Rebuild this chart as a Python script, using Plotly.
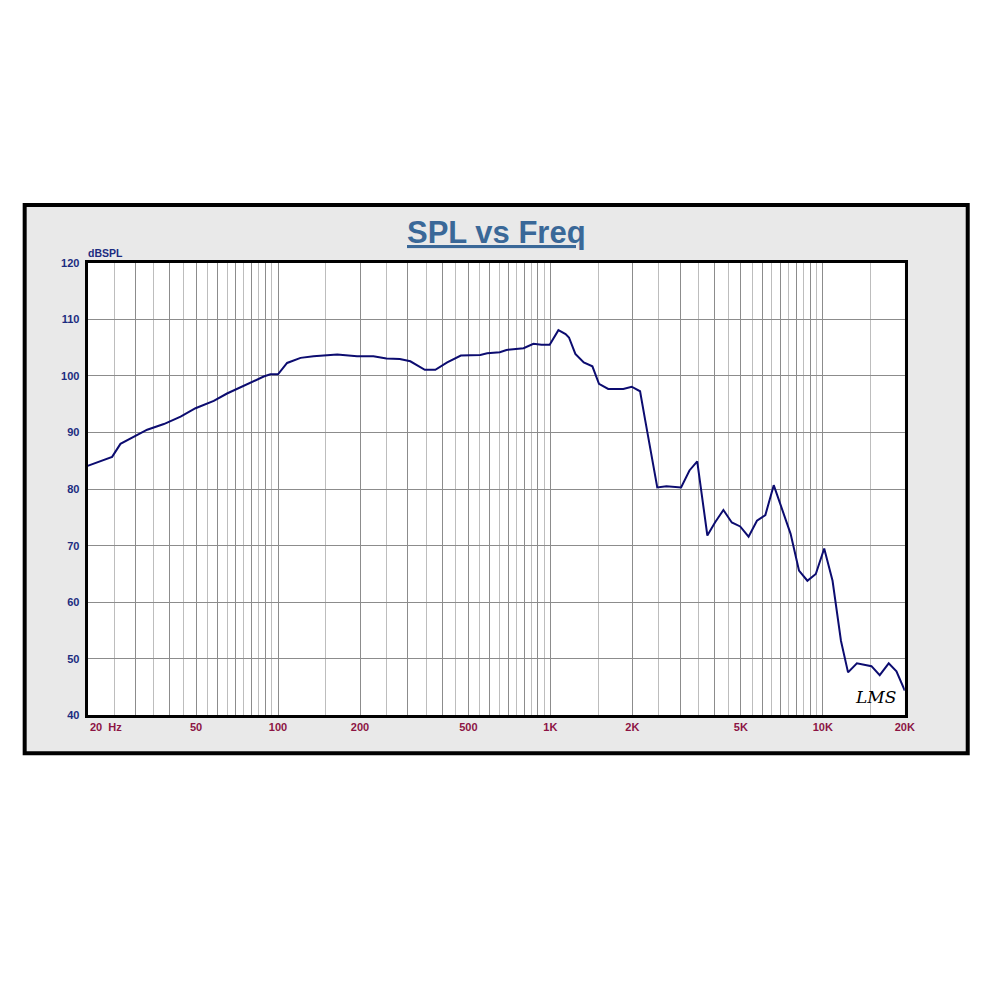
import numpy as np
import plotly.graph_objects as go

# ---- data ----
freq_hz = [20, 24.6, 26.4, 29.6, 33.1, 38.1, 43.9, 49.8, 58.1, 65, 77, 88.6, 93.8, 100,
           108, 121, 135, 165, 195, 224, 250, 280, 306, 346, 378, 418, 469, 553, 586,
           652, 690, 797, 866, 928, 994, 1070, 1137, 1170, 1235, 1326, 1426, 1508, 1630,
           1852, 1988, 2134, 2230, 2468, 2666, 3018, 3240, 3460, 3769, 4020, 4316, 4634,
           4974, 5340, 5732, 6154, 6606, 7100, 7618, 8178, 8780, 9426, 10120, 10860,
           11660, 12380, 13340, 15090, 16180, 17460, 18640, 20000]
spl_db = [84.1, 85.7, 88.0, 89.3, 90.5, 91.5, 92.8, 94.3, 95.6, 96.9, 98.6, 99.9, 100.3, 100.3,
          102.3, 103.2, 103.5, 103.8, 103.5, 103.5, 103.1, 103.0, 102.6, 101.1, 101.1, 102.4,
          103.6, 103.7, 104.0, 104.2, 104.6, 104.9, 105.7, 105.5, 105.5, 108.1, 107.4, 106.8,
          103.9, 102.4, 101.7, 98.6, 97.7, 97.7, 98.1, 97.3, 92.1, 80.3, 80.5, 80.3, 83.3,
          84.9, 71.8, 74.1, 76.3, 74.1, 73.4, 71.6, 74.4, 75.4, 80.7, 76.2, 72.1, 65.6, 63.8,
          65.0, 69.5, 63.8, 53.2, 47.6, 49.2, 48.7, 47.1, 49.2, 47.8, 44.4]

major_grid = [30, 40, 50, 60, 70, 80, 90, 100, 200, 300, 400, 500, 600, 700, 800, 900,
              1000, 2000, 3000, 4000, 5000, 6000, 7000, 8000, 9000, 10000, 20000]
minor_grid = [25, 35, 45, 55, 65, 75, 85, 95, 150, 250, 350, 450, 550, 650, 750, 850, 950,
              1500, 2500, 3500, 4500, 5500, 6500, 7500, 8500, 9500, 15000]
x_labels = {50: "50", 100: "100", 200: "200", 500: "500", 1000: "1K", 2000: "2K",
            5000: "5K", 10000: "10K", 20000: "20K"}
y_ticks = [40, 50, 60, 70, 80, 90, 100, 110, 120]

FONT = "Liberation Sans, Arial, sans-serif"
XCOL = "#8c1444"
YCOL = "#1c2c80"


# screen-pixel -> paper coordinate helpers (compensating the capture scaling)
def px(x):
    return ((x + 0.7) / 0.991) / 1000.0


def py(y):
    return 1.0 - ((y - 4.9) / 0.989) / 1000.0


XD = [px(87), px(905)]
YD = [py(715), py(262)]

fig = go.Figure()
fig.add_trace(go.Scatter(x=freq_hz, y=spl_db, mode="lines",
                         line=dict(color="#0c0c70", width=2), hoverinfo="skip",
                         showlegend=False))

fig.update_layout(
    width=1000, height=1000, autosize=False,
    margin=dict(l=0, r=0, t=0, b=0),
    paper_bgcolor="white", plot_bgcolor="white",
    font=dict(family=FONT),
    xaxis=dict(
        type="log", range=[np.log10(20), np.log10(20000)], domain=XD,
        tickmode="array", tickvals=major_grid,
        ticktext=[x_labels.get(v, "") for v in major_grid],
        tickfont=dict(color=XCOL, size=11, family=FONT, weight="bold"),
        showgrid=True, gridcolor="#8c8c8c", gridwidth=1,
        minor=dict(tickmode="array", tickvals=minor_grid, showgrid=True,
                   gridcolor="#bdbdbd", gridwidth=1, ticks=""),
        ticks="", showline=True, mirror=True, linecolor="black", linewidth=3,
        zeroline=False, fixedrange=True, ticklabelstandoff=-1,
    ),
    yaxis=dict(
        range=[40, 120], domain=YD, tickmode="array", tickvals=y_ticks,
        tickfont=dict(color=YCOL, size=11, family=FONT, weight="bold"),
        showgrid=True, gridcolor="#8c8c8c", gridwidth=1,
        ticks="", showline=True, mirror=True, linecolor="black", linewidth=3,
        zeroline=False, fixedrange=True, ticklabelstandoff=3,
    ),
    shapes=[
        dict(type="rect", xref="paper", yref="paper", x0=px(24), x1=px(968),
             y0=py(753), y1=py(204), fillcolor="#e9e9e9",
             line=dict(color="black", width=4), layer="below"),
        dict(type="rect", xref="paper", yref="paper", x0=XD[0], x1=XD[1],
             y0=YD[0], y1=YD[1], fillcolor="white", line=dict(width=0),
             layer="below"),
    ],
    annotations=[
        dict(text="<b><u>SPL vs Freq</u></b>", xref="paper", yref="paper",
             x=px(496), y=py(232), xanchor="center", yanchor="middle", showarrow=False,
             font=dict(size=31, color="#3a6898", family=FONT)),
        dict(text="<b>dBSPL</b>", xref="paper", yref="paper", x=px(85), y=py(252),
             xanchor="left", yanchor="middle", showarrow=False,
             font=dict(size=10.5, color=YCOL, family=FONT)),
        dict(text="<b>20  Hz</b>", xref="x", yref="paper", x=np.log10(20), y=py(727),
             xanchor="left", yanchor="middle", showarrow=False,
             font=dict(size=11, color=XCOL, family=FONT)),
        dict(text="<i>LMS</i>", xref="paper", yref="paper", x=px(876), y=py(697),
             xanchor="center", yanchor="middle", showarrow=False,
             font=dict(size=17, color="black", family="DejaVu Serif, serif")),
    ],
)

fig.write_html(
    "out.html",
    config={"responsive": False, "displayModeBar": False},
    post_script=(
        "var s='margin:0;padding:0;overflow:hidden;width:1000px;height:1000px';"
        "document.documentElement.style.cssText=s;"
        "document.body.style.cssText=s;"
    ),
)
